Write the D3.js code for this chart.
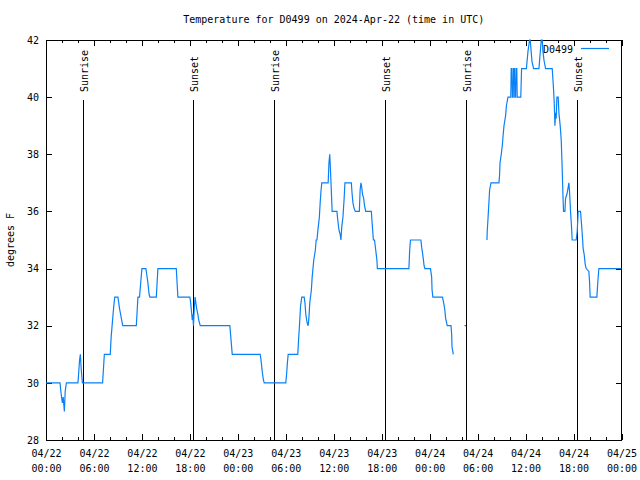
<!DOCTYPE html>
<html>
<head>
<meta charset="utf-8">
<script src="https://cdn.jsdelivr.net/npm/d3@7"></script>
<style>
  html, body { margin: 0; padding: 0; background: #fff; }
  svg { display: block; }
  text { font-family: "DejaVu Sans Mono", "Liberation Mono", monospace; font-size: 10px; fill: #000; }
</style>
</head>
<body>
<svg id="chart" width="640" height="480"></svg>
<script>
// ---- data (hours since 2024-04-22 00:00 UTC, temperature in F; null = gap) ----
const startTime = "2024-04-22T00:00:00Z";
const endTime = "2024-04-25T00:00:00Z";
const title = "Temperature for D0499 on 2024-Apr-22 (time in UTC)";
const seriesName = "D0499";
const yLabel = "degrees F";

const hours = [
  0, 1.75, 1.9, 2.05, 2.15, 2.3, 2.4, 2.55, 4.0, 4.1, 4.2, 4.3, 4.4, 4.55,
  7.08, 7.3, 8.04, 8.15, 8.3, 8.45, 8.6, 9.0, 9.2, 9.4, 9.6, 11.3, 11.5, 11.7, 12.0, 12.5,
  12.6, 12.75, 12.9, 13.0, 13.8, 14.0, 16.3, 16.5, 18.0, 18.1, 18.2, 18.3, 18.35, 18.45,
  18.55, 18.65, 18.75, 18.85, 19.0, 19.1, 19.3, 23.0, 23.3, 26.8, 26.9, 27.05, 27.2, 27.3,
  30.0, 30.1, 30.2, 30.3, 31.5, 31.6, 31.75, 31.85, 32.0, 32.3, 32.4, 32.5, 32.67, 32.8,
  32.9, 33.0, 33.2, 33.3, 33.4, 33.5, 33.7, 33.8, 33.9, 34.0, 34.2, 34.3, 34.4, 34.5,
  35.3, 35.4, 35.5, 35.6, 35.8, 36.4, 36.5, 36.65, 36.8, 36.9, 37.0, 37.15, 37.3, 37.4,
  38.2, 38.3, 38.4, 38.55, 38.7, 39.2, 39.3, 39.4, 39.5, 39.6, 39.75, 39.85, 40.0,
  40.7, 40.8, 40.96, 41.1, 41.25, 41.4, 41.46, 45.4, 45.5, 45.6, 46.9, 47.0, 47.2, 47.3, 47.4,
  48.1, 48.25, 48.3, 48.4, 49.6, 49.75, 49.9, 50.0, 50.2, 50.67, 50.75, 50.8, 50.96,
  51.5,
  52.35, 52.55,
  53.0,
  55.17, 55.2, 55.3, 55.4, 55.5, 55.67, 56.67, 56.75, 56.8, 56.96, 57.1, 57.2, 57.3, 57.5, 57.6, 57.8,
  58.15, 58.2, 58.3, 58.35, 58.45, 58.5, 58.6, 58.65, 58.75, 58.8, 58.9, 58.95, 59.4, 59.5,
  60.1, 60.2, 60.3, 60.5, 60.58, 60.7, 60.8, 61.0, 61.67, 61.8, 61.96, 62.08, 62.17, 62.3, 62.5,
  63.33, 63.46, 63.58, 63.67, 63.75, 63.83, 63.92, 64.08, 64.17, 64.33, 64.46, 64.58, 64.67, 64.75,
  64.92, 65.0, 65.17, 65.3, 65.42, 65.5, 65.625, 65.75, 65.83, 66.33, 66.46, 66.58, 66.875,
  67.0, 67.125, 67.2, 67.33, 67.46, 67.58, 67.92, 68.0, 68.08, 68.92, 69.04, 69.17, 72.0
];
const temps = [
  30, 30, 29.6, 29.3, 29.5, 29.0, 29.7, 30, 30, 30.4, 30.8, 31, 30.5, 30,
  30, 31, 31, 31.6, 32.1, 32.6, 33, 33, 32.6, 32.3, 32, 32, 33, 33, 34, 34,
  33.8, 33.5, 33.1, 33, 33, 34, 34, 33, 33, 32.8, 32.5, 32.2, 32.4, 32,
  32.6, 33, 32.8, 32.6, 32.4, 32.2, 32, 32, 31, 31, 30.8, 30.4, 30.1, 30,
  30, 30.3, 30.7, 31, 31, 31.5, 32.2, 32.7, 33, 33, 32.8, 32.4, 32.1, 32.0,
  32.3, 32.8, 33.25, 33.7, 34, 34.3, 34.65, 35, 35, 35.3, 35.8, 36.3, 36.7, 37,
  37, 37.7, 38, 37.4, 36, 36, 35.7, 35.35, 35.2, 35, 35.45, 35.8, 36.45, 37,
  37, 36.6, 36.3, 36.1, 36, 36, 36.75, 37, 36.85, 36.6, 36.45, 36.2, 36,
  36, 35.6, 35, 35, 34.65, 34.3, 34, 34, 34.65, 35, 35, 34.75, 34.35, 34.1, 34,
  34, 33.7, 33.25, 33, 33, 32.8, 32.55, 32.25, 32, 32, 31.7, 31.25, 31,
  null,
  32, 32,
  null,
  35, 35.3, 35.75, 36.25, 36.75, 37, 37, 37.3, 37.7, 38, 38.35, 38.7, 39, 39.35, 39.7, 40,
  40, 41, 41, 40, 40, 41, 41, 40, 40, 41, 41, 40, 40, 41,
  41, 41.3, 41.6, 42, 42, 41.6, 41.25, 41, 41, 41.45, 42, 42, 41.6, 41.3, 41,
  41, 40.45, 39.85, 39, 39.45, 39.25, 40, 40, 39.45, 39, 38.5, 37.5, 36.6, 36,
  36, 36.45, 36.6, 36.8, 37, 36.7, 36, 35.45, 35, 35, 35.3, 36, 36,
  35.55, 35.05, 34.7, 34.5, 34.15, 34, 33.9, 33.55, 33, 33, 33.55, 34, 34
];

const sunEvents = ["Sunrise", "Sunset", "Sunrise", "Sunset", "Sunrise", "Sunset"];
const sunTimes = ["2024-04-22T04:40:00Z", "2024-04-22T18:25:00Z", "2024-04-23T04:32:00Z",
                  "2024-04-23T18:25:00Z", "2024-04-24T04:32:00Z", "2024-04-24T18:25:00Z"];

const yTicks = [28, 30, 32, 34, 36, 38, 40, 42];
const xTickDates = ["04/22", "04/22", "04/22", "04/22", "04/23", "04/23", "04/23", "04/23",
                    "04/24", "04/24", "04/24", "04/24", "04/25"];
const xTickTimes = ["00:00", "06:00", "12:00", "18:00", "00:00", "06:00", "12:00", "18:00",
                    "00:00", "06:00", "12:00", "18:00", "00:00"];

// ---- layout ----
const plot = { left: 46, right: 621.5, top: 40, bottom: 440 };
const lineColor = "#0a80f5";

const svg = d3.select("#chart");
const t0 = new Date(startTime);
const t1 = new Date(endTime);
const x = d3.scaleUtc().domain([t0, t1]).range([plot.left, plot.right]);
const y = d3.scaleLinear().domain([28, 42]).range([plot.bottom, plot.top]);

const data = hours.map((h, i) => ({ t: new Date(t0.getTime() + h * 3600e3), v: temps[i] }));

const majorTicks = d3.utcHour.every(6).range(t0, new Date(t1.getTime() + 1));
const minorTicks = d3.utcHour.every(2).range(t0, new Date(t1.getTime() + 1));

// minor ticks (inward) bottom & top
svg.append("g").attr("transform", `translate(0,${plot.bottom})`)
  .call(d3.axisBottom(x).tickValues(minorTicks).tickSize(-3).tickFormat(""));
svg.append("g").attr("transform", `translate(0,${plot.top})`)
  .call(d3.axisTop(x).tickValues(minorTicks).tickSize(-3).tickFormat(""));
// major ticks bottom with labels
const gXB = svg.append("g").attr("transform", `translate(0,${plot.bottom})`)
  .call(d3.axisBottom(x).tickValues(majorTicks).tickSize(-6).tickPadding(6).tickFormat((d, i) => i));
gXB.selectAll(".tick text").each(function(d, i) {
  const el = d3.select(this);
  el.text(null).attr("y", 0).attr("dy", null);
  el.append("tspan").attr("x", 0).attr("y", 17).text(xTickDates[i]);
  el.append("tspan").attr("x", 0).attr("y", 32).text(xTickTimes[i]);
});
svg.append("g").attr("transform", `translate(0,${plot.top})`)
  .call(d3.axisTop(x).tickValues(majorTicks).tickSize(-6).tickFormat(""));

// y axis
svg.append("g").attr("transform", `translate(${plot.left},0)`)
  .call(d3.axisLeft(y).tickValues(yTicks).tickSize(-6).tickPadding(7).tickFormat(d3.format("d")));
svg.append("g").attr("transform", `translate(${plot.right},0)`)
  .call(d3.axisRight(y).tickValues(yTicks).tickSize(-6).tickFormat(""));

svg.selectAll(".domain").remove();
svg.selectAll(".tick line").attr("stroke", "#000").attr("shape-rendering", "crispEdges");
svg.selectAll(".tick text").style("font-family", '"DejaVu Sans Mono", monospace').style("font-size", "10px").attr("fill", "#000");

// frame
svg.append("rect")
  .attr("x", plot.left).attr("y", plot.top)
  .attr("width", plot.right - plot.left).attr("height", plot.bottom - plot.top)
  .attr("fill", "none").attr("stroke", "#000").attr("shape-rendering", "crispEdges");

// sunrise / sunset lines
sunTimes.forEach((s, i) => {
  const xx = Math.round(x(new Date(s))) + 0.5;
  svg.append("line")
    .attr("x1", xx).attr("x2", xx).attr("y1", 100).attr("y2", plot.bottom)
    .attr("stroke", "#000").attr("stroke-width", 1);
  svg.append("text")
    .attr("transform", `translate(${xx + 4},92) rotate(-90)`)
    .attr("text-anchor", "start")
    .text(sunEvents[i]);
});

// data line
const line = d3.line()
  .defined(d => d.v !== null)
  .x(d => x(d.t))
  .y(d => y(d.v));
svg.append("path")
  .datum(data)
  .attr("fill", "none")
  .attr("stroke", lineColor)
  .attr("stroke-width", 1.2)
  .attr("d", line);

// title
svg.append("text")
  .attr("x", (plot.left + plot.right) / 2).attr("y", 23)
  .attr("text-anchor", "middle")
  .text(title);

// y label
svg.append("text")
  .attr("transform", `translate(14,${(plot.top + plot.bottom) / 2}) rotate(-90)`)
  .attr("text-anchor", "middle")
  .text(yLabel);

// legend
svg.append("text")
  .attr("x", 573).attr("y", 53)
  .attr("text-anchor", "end")
  .text(seriesName);
svg.append("line")
  .attr("x1", 581).attr("x2", 609).attr("y1", 48.5).attr("y2", 48.5)
  .attr("stroke", lineColor).attr("stroke-width", 1.2);
</script>
</body>
</html>
